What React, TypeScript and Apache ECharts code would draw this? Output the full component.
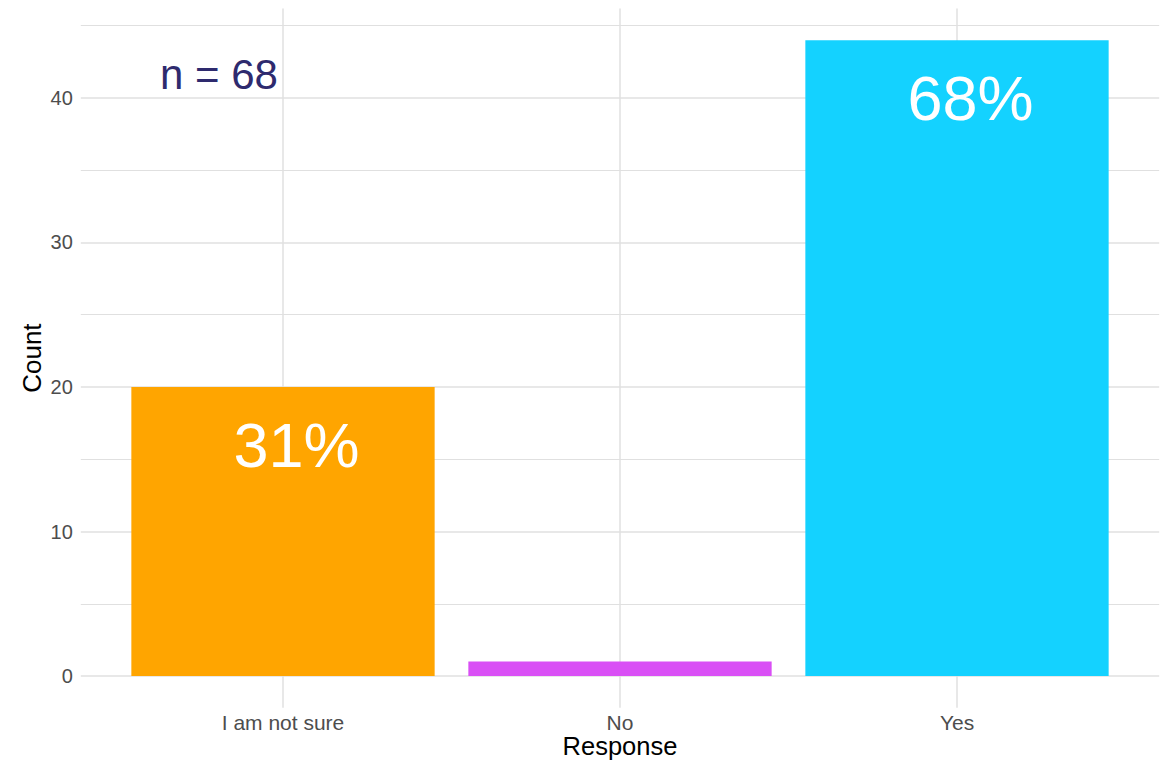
import React, { useEffect, useRef } from "react";
import * as echarts from "echarts";

const categories = ["I am not sure", "No", "Yes"];
const counts = [20, 1, 44];
const barColors = ["#FFA500", "#D94FF5", "#14D2FF"];
const percentLabels = ["31%", "", "68%"];
const majorTicks = [0, 10, 20, 30, 40];
const minorTicks = [5, 15, 25, 35, 45];
const nLabel = "n = 68";
const nLabelPos = [0.81, 41.6];

const FONT = "Liberation Sans, Arial, Helvetica, sans-serif";

export default function App() {
  const ref = useRef<HTMLDivElement>(null);
  useEffect(() => {
    document.body.style.margin = "0";
    if (!ref.current) return;
    const chart = echarts.init(ref.current, undefined, { renderer: "svg" });
    const barData = categories.map((c, i) => [i + 1, counts[i], i]);
    const gridColor = "#e0e0e0";
    const option: any = {
      animation: false,
      backgroundColor: "#ffffff",
      grid: {
        left: 80.8,
        right: 5.8,
        top: 8.4,
        bottom: 53.2,
        containLabel: false,
        outerBoundsMode: "none",
      },
      xAxis: {
        type: "value",
        min: 0.4,
        max: 3.6,
        axisLabel: { show: false },
        axisLine: { show: false },
        axisTick: { show: false },
        splitLine: { show: false },
        name: "Response",
        nameLocation: "middle",
        nameGap: 25,
        nameTextStyle: { fontSize: 25.5, color: "#000000", fontFamily: FONT, lineHeight: 26 },
      },
      yAxis: {
        type: "value",
        min: -2.2,
        max: 46.2,
        axisLabel: { show: false },
        axisLine: { show: false },
        axisTick: { show: false },
        splitLine: { show: false },
        name: "Count",
        nameLocation: "middle",
        nameRotate: 90,
        nameGap: 36,
        nameTextStyle: { fontSize: 26, color: "#000000", fontFamily: FONT },
      },
      series: [
        {
          type: "line",
          data: [],
          z: 0,
          silent: true,
          markLine: {
            silent: true,
            symbol: "none",
            animation: false,
            z: 0,
            data: [
              ...minorTicks.map((v) => ({
                yAxis: v,
                lineStyle: { color: gridColor, width: 1, type: "solid" },
                label: { show: false },
              })),
              ...majorTicks.map((v) => ({
                yAxis: v,
                lineStyle: { color: gridColor, width: 1.5, type: "solid" },
                label: {
                  show: true,
                  position: "start",
                  distance: 8,
                  formatter: String(v),
                  fontSize: 20,
                  color: "#4d4d4d",
                  fontFamily: FONT,
                },
              })),
              ...categories.map((c, i) => ({
                xAxis: i + 1,
                lineStyle: { color: gridColor, width: 1.5, type: "solid" },
                label: {
                  show: true,
                  position: "start",
                  distance: 4,
                  formatter: c,
                  fontSize: 21,
                  color: "#4d4d4d",
                  fontFamily: FONT,
                },
              })),
            ],
          },
        },
        {
          type: "custom",
          z: 2,
          data: barData,
          renderItem: (params: any, api: any) => {
            const x = api.value(0);
            const y = api.value(1);
            const idx = api.value(2);
            const p0 = api.coord([x - 0.45, 0]);
            const p1 = api.coord([x + 0.45, y]);
            return {
              type: "rect",
              shape: { x: p0[0], y: p1[1], width: p1[0] - p0[0], height: p0[1] - p1[1] },
              style: { fill: barColors[idx] },
            };
          },
        },
        {
          type: "custom",
          z: 3,
          data: barData,
          renderItem: (params: any, api: any) => {
            const x = api.value(0);
            const y = api.value(1);
            const idx = api.value(2);
            const p = api.coord([x + 0.04, y - 4]);
            return {
              type: "text",
              x: p[0],
              y: p[1],
              style: {
                text: percentLabels[idx],
                fill: "#ffffff",
                fontSize: 63,
                fontFamily: FONT,
                textAlign: "center",
                textVerticalAlign: "middle",
              },
            };
          },
        },
        {
          type: "custom",
          z: 3,
          data: [nLabelPos],
          renderItem: (params: any, api: any) => {
            const p = api.coord([api.value(0), api.value(1)]);
            return {
              type: "text",
              x: p[0],
              y: p[1],
              style: {
                text: nLabel,
                fill: "#2E2A6E",
                fontSize: 42,
                fontFamily: FONT,
                textAlign: "center",
                textVerticalAlign: "middle",
              },
            };
          },
        },
      ],
    };
    chart.setOption(option);
    return () => chart.dispose();
  }, []);
  return <div ref={ref} style={{ width: 1165, height: 761 }} />;
}
